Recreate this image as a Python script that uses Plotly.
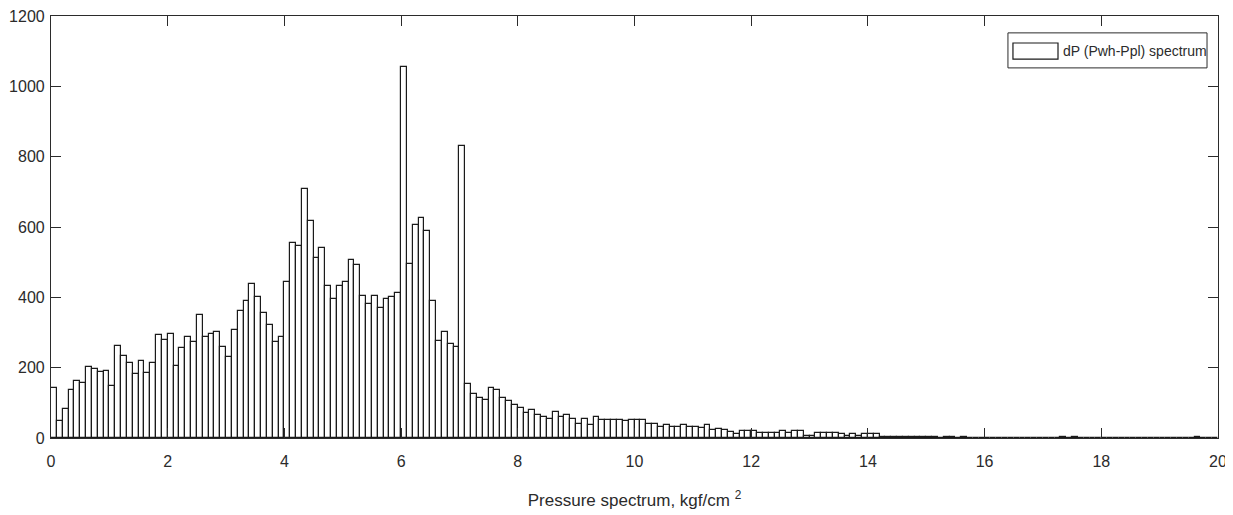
import plotly.graph_objects as go

# histogram of dP (Pwh-Ppl), bins of 0.1 kgf/cm2 starting at 0
bin_width = 0.1
counts = [
    142, 49, 83, 137, 161, 156, 201, 196, 187, 190,
    147, 262, 234, 214, 181, 219, 186, 214, 293, 278,
    297, 206, 255, 288, 273, 349, 287, 297, 302, 259,
    229, 307, 360, 390, 438, 400, 355, 322, 272, 288,
    443, 555, 545, 709, 618, 511, 540, 433, 394, 433,
    443, 507, 491, 405, 380, 405, 371, 395, 400, 413,
    1054, 496, 605, 626, 588, 390, 277, 301, 268, 259,
    831, 153, 124, 115, 109, 142, 137, 113, 104, 94,
    85, 70, 79, 65, 60, 55, 75, 60, 65, 55,
    40, 55, 36, 60, 51, 51, 51, 51, 47, 51,
    51, 51, 39, 39, 30, 36, 30, 30, 36, 32,
    32, 28, 37, 23, 26, 23, 16, 11, 19, 19,
    19, 15, 15, 15, 15, 21, 15, 21, 21, 7,
    7, 13, 13, 13, 13, 11, 5, 10, 5, 10,
    10, 10, 3, 4, 3, 3, 4, 3, 3, 3,
    4, 3, 0, 2, 2, 0, 2, 0, 0, 0,
    0, 0, 0, 0, 0, 0, 0, 0, 0, 0,
    0, 0, 0, 2, 0, 2, 0, 0, 0, 0,
    0, 0, 0, 0, 0, 0, 0, 0, 0, 0,
    0, 0, 0, 0, 0, 0, 2, 0, 0, 0,
]
bin_centers = [round(bin_width * (i + 0.5), 3) for i in range(len(counts))]

x_ticks = [0, 2, 4, 6, 8, 10, 12, 14, 16, 18, 20]
y_ticks = [0, 200, 400, 600, 800, 1000, 1200]
legend_label = "dP (Pwh-Ppl) spectrum"

ink = "#2b2b2b"
font_family = "Liberation Sans, Arial, sans-serif"

fig = go.Figure()
fig.add_trace(go.Bar(
    x=bin_centers,
    y=counts,
    width=bin_width,
    marker=dict(color="white", line=dict(color="#1a1a1a", width=1.2)),
    name=legend_label,
    showlegend=False,
))

axis_common = dict(
    showline=True,
    linecolor=ink,
    linewidth=1.2,
    mirror="allticks",
    ticks="inside",
    ticklen=10,
    tickwidth=1.2,
    tickcolor=ink,
    showgrid=False,
    zeroline=False,
    automargin=False,
    ticklabeloverflow="allow",
    tickfont=dict(family=font_family, size=16, color=ink),
)

fig.update_xaxes(
    range=[0, 20],
    tickvals=x_ticks,
    ticklabelstandoff=9,
    title=dict(text="Pressure spectrum, kgf/cm <sup>2</sup>",
               font=dict(family=font_family, size=17, color=ink),
               standoff=24),
    **axis_common,
)
fig.update_yaxes(
    range=[0, 1200],
    tickvals=y_ticks,
    ticklabelstandoff=2,
    **axis_common,
)

# legend box drawn MATLAB-style (wide swatch)
fig.add_shape(type="rect", xref="paper", yref="paper",
              x0=0.820, x1=0.9906, y0=0.877, y1=0.960,
              line=dict(color=ink, width=1), fillcolor="white", layer="above")
fig.add_shape(type="rect", xref="paper", yref="paper",
              x0=0.8243, x1=0.8629, y0=0.898, y1=0.936,
              line=dict(color="#1a1a1a", width=1.2), fillcolor="white", layer="above")
fig.add_annotation(xref="paper", yref="paper", x=0.8655, y=0.917,
                   text=legend_label, showarrow=False,
                   xanchor="left", yanchor="middle",
                   font=dict(family=font_family, size=14, color=ink))

# the page body has an 8px margin, so the figure is sized to end at the window edge
fig.update_layout(
    width=1225,
    height=507,
    margin=dict(l=43, r=15, t=8, b=77, autoexpand=False),
    plot_bgcolor="white",
    paper_bgcolor="white",
    bargap=0,
    showlegend=False,
)

fig.write_html("out.html")
